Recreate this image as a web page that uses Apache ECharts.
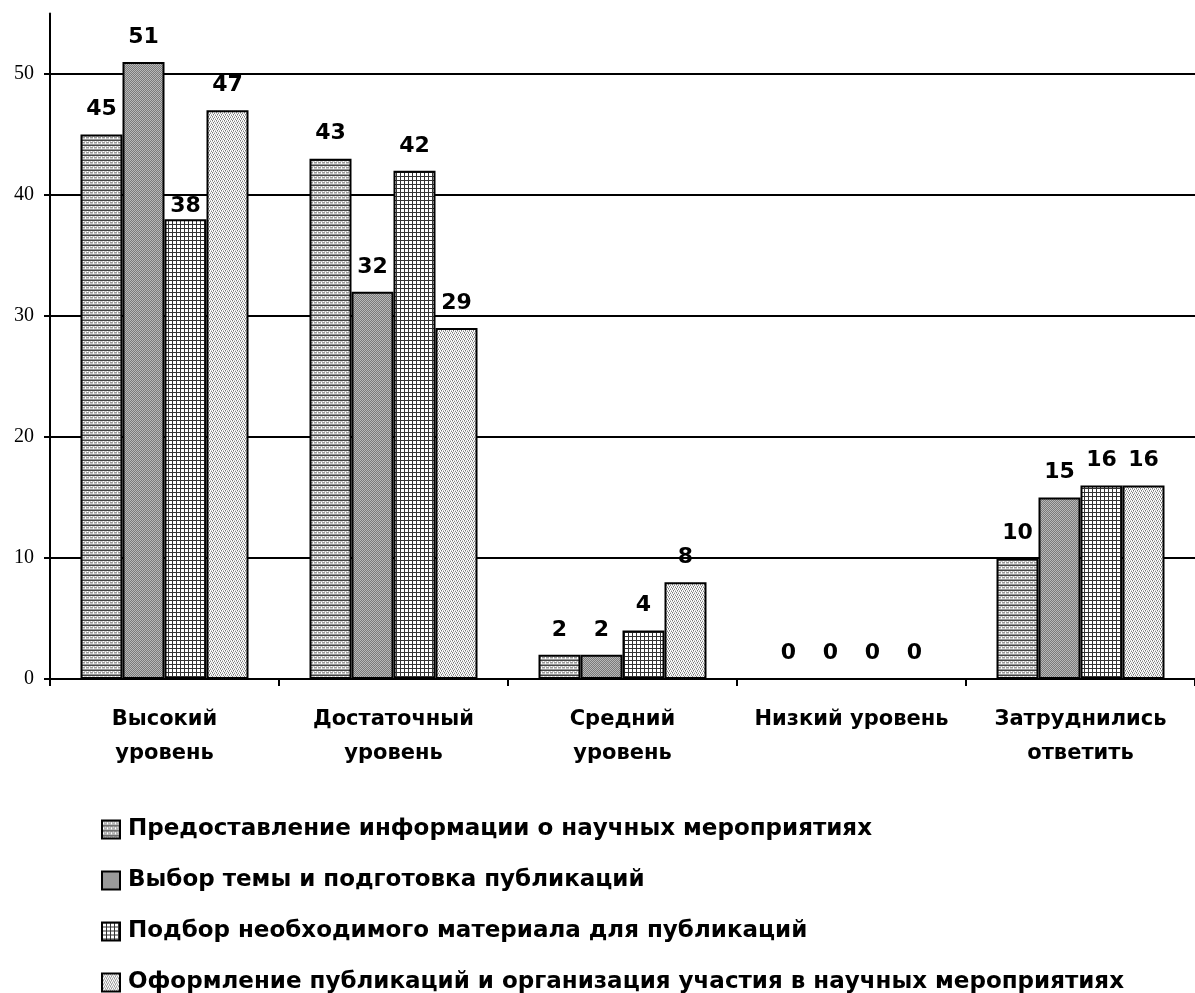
<!DOCTYPE html>
<html>
<head>
<meta charset="utf-8">
<script src="https://cdn.jsdelivr.net/npm/echarts@6/dist/echarts.min.js"></script>
<style>
html,body{margin:0;padding:0;background:#fff;}
#chart{width:1195px;height:993px;}
</style>
</head>
<body>
<div id="chart"></div>
<script>
const categories = ['Высокий\nуровень', 'Достаточный\nуровень', 'Средний\nуровень', 'Низкий уровень', 'Затруднились\nответить'];
const seriesNames = [
  'Предоставление информации о научных мероприятиях',
  'Выбор темы и подготовка публикаций',
  'Подбор необходимого материала для публикаций',
  'Оформление публикаций и организация участия в научных мероприятиях'
];
const s1 = [45, 43, 2, 0, 10];
const s2 = [51, 32, 2, 0, 15];
const s3 = [38, 42, 4, 0, 16];
const s4 = [47, 29, 8, 0, 16];
const yTicks = [0, 10, 20, 30, 40, 50];

function makePattern(w, h, draw) {
  const c = document.createElement('canvas');
  c.width = w; c.height = h;
  const ctx = c.getContext('2d');
  draw(ctx);
  return { image: c, repeat: 'repeat' };
}
function px(ctx, x, y, col) { ctx.fillStyle = col; ctx.fillRect(x, y, 1, 1); }

const pat1 = makePattern(4, 5, ctx => {
  ctx.fillStyle = '#cccccc'; ctx.fillRect(0, 0, 4, 5);
  for (let x = 0; x < 4; x++) px(ctx, x, 0, '#444');
  for (let x = 0; x < 4; x++) px(ctx, x, 2, x === 1 ? '#fff' : '#999');
  for (let x = 0; x < 4; x++) px(ctx, x, 4, '#999');
  px(ctx, 3, 1, '#fff'); px(ctx, 1, 3, '#fff');
});
const pat2 = makePattern(2, 2, ctx => {
  for (let x = 0; x < 2; x++) for (let y = 0; y < 2; y++) px(ctx, x, y, (x + y) % 2 ? '#7a7a7a' : '#b8b8b8');
});
const pat3 = makePattern(4, 4, ctx => {
  ctx.fillStyle = '#ffffff'; ctx.fillRect(0, 0, 4, 4);
  for (let i = 0; i < 4; i++) { px(ctx, i, 0, '#333'); px(ctx, 0, i, '#333'); }
});
const pat4 = makePattern(4, 4, ctx => {
  ctx.fillStyle = '#ffffff'; ctx.fillRect(0, 0, 4, 4);
  px(ctx, 0, 0, '#777'); px(ctx, 2, 1, '#888'); px(ctx, 1, 2, '#777'); px(ctx, 3, 3, '#888');
  px(ctx, 2, 0, '#ccc'); px(ctx, 0, 1, '#bbb'); px(ctx, 3, 2, '#ccc'); px(ctx, 1, 3, '#bbb');
});
const patterns = [pat1, pat2, pat3, pat4];
const values = [s1, s2, s3, s4];

const font = "'DejaVu Sans', 'Liberation Sans', Arial, sans-serif";

const chart = echarts.init(document.getElementById('chart'), null, { renderer: 'canvas' });
chart.setOption({
  backgroundColor: '#ffffff',
  animation: false,
  grid: { left: 50, right: -10, top: 13.5, bottom: 314, containLabel: false },
  legend: {
    orient: 'vertical',
    left: 101,
    top: 818,
    height: 300,
    padding: 0,
    itemWidth: 18,
    itemHeight: 18,
    itemGap: 28,
    icon: 'rect',
    data: seriesNames,
    textStyle: { fontFamily: font, fontWeight: 'bold', fontSize: 23, color: '#000', padding: [0, 0, 0, 3] },
    itemStyle: { borderColor: '#000', borderWidth: 2 }
  },
  xAxis: {
    type: 'category',
    data: categories,
    axisLine: { lineStyle: { color: '#000', width: 2 } },
    axisTick: { show: true, length: 7, alignWithLabel: false, lineStyle: { color: '#000', width: 2 } },
    axisLabel: { interval: 0, margin: 24, color: '#000', fontFamily: font, fontWeight: 'bold', fontSize: 21, lineHeight: 34, align: 'center' },
    splitLine: { show: false }
  },
  yAxis: {
    type: 'value',
    min: 0,
    max: 55,
    interval: 10,
    axisLine: { show: true, lineStyle: { color: '#000', width: 2 } },
    axisTick: { show: true, length: 6, customValues: yTicks, lineStyle: { color: '#000', width: 2 } },
    axisLabel: { customValues: yTicks, margin: 16, color: '#000', fontFamily: "'Liberation Serif', 'Times New Roman', serif", fontSize: 20 },
    splitLine: { show: true, lineStyle: { color: ['#000', '#000', '#000', '#000', '#000', '#000', 'rgba(0,0,0,0)'], width: 2 } }
  },
  series: values.map((arr, s) => ({
    name: seriesNames[s],
    type: 'bar',
    barWidth: 42,
    barGap: '0%',
    data: arr.map((v, i) => (s === 2 && i === 0) ? { value: v, label: { distance: 2 } } : v),
    itemStyle: { color: patterns[s], borderColor: '#000', borderWidth: 2 },
    label: { show: true, position: 'top', distance: 14, color: '#000', fontFamily: font, fontWeight: 'bold', fontSize: 22 }
  }))
});
</script>
</body>
</html>
